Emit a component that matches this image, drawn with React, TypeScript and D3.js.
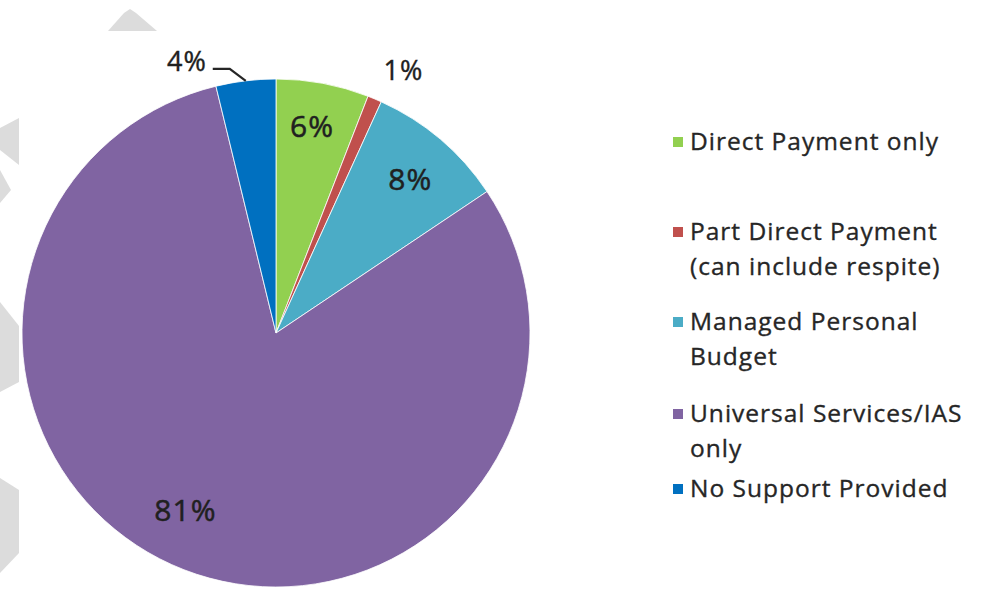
import { useEffect, useRef } from 'react';
import * as d3 from 'd3';

// slice shares (percent), clockwise from 12 o'clock
const categories = [
  'Direct Payment only',
  'Part Direct Payment (can include respite)',
  'Managed Personal Budget',
  'Universal Services/IAS only',
  'No Support Provided',
];
const shares = [5.9, 0.9, 8.8, 80.6, 3.8];
const shareLabels = ['6%', '1%', '8%', '81%', '4%'];
const colors = ['#92d050', '#c0504d', '#4bacc6', '#8064a2', '#0070c0'];

// legend text split into lines the way the original wraps it
const legendLines = [
  ['Direct Payment only'],
  ['Part Direct Payment', '(can include respite)'],
  ['Managed Personal', 'Budget'],
  ['Universal Services/IAS', 'only'],
  ['No Support Provided'],
];

const W = 985;
const H = 589;

export default function App() {
  const ref = useRef<SVGSVGElement>(null);

  useEffect(() => {
    if (!ref.current) return;
    const svg = d3.select(ref.current);
    svg.selectAll('*').remove();

    // faint watermark shapes along the left edge
    const marks = [
      [[108, 31], [124, 13], [130, 9], [136, 13], [157, 31]],
      [[0, 128], [19, 118], [19, 165], [0, 150]],
      [[0, 170], [11, 190], [0, 203]],
      [[0, 302], [19, 326], [19, 382], [0, 392]],
      [[0, 478], [19, 490], [19, 553], [0, 573]],
    ];
    svg.append('g')
      .selectAll('polygon')
      .data(marks)
      .join('polygon')
      .attr('points', (d) => d.map((p) => p.join(',')).join(' '))
      .attr('fill', '#dcdcdc');

    const cx = 276;
    const cy = 333;
    const radius = 254;

    const pie = d3.pie<number>().sort(null).value((d) => d);
    const arcs = pie(shares);

    const arc = d3.arc<d3.PieArcDatum<number>>()
      .innerRadius(0)
      .outerRadius(radius);

    const g = svg.append('g').attr('transform', `translate(${cx},${cy})`);

    g.selectAll('path')
      .data(arcs)
      .join('path')
      .attr('d', arc)
      .attr('fill', (_d, i) => colors[i])
      .attr('stroke', '#ffffff')
      .attr('stroke-width', 0.8);

    // labels inside the big slices
    const inner = d3.arc<d3.PieArcDatum<number>>()
      .innerRadius(206)
      .outerRadius(206);

    const font = '"Open Sans", sans-serif';
    const ink = '#202020';

    // small nudges so labels sit where Excel put them
    const nudge: Record<number, [number, number]> = { 0: [-2, -4], 2: [1, 3], 3: [-16, -15] };

    const insideIdx = [0, 2, 3];
    g.selectAll('text.inside')
      .data(insideIdx)
      .join('text')
      .attr('class', 'inside')
      .attr('transform', (i) => {
        const [x, y] = inner.centroid(arcs[i]);
        const [nx, ny] = nudge[i];
        return `translate(${x + nx},${y + ny})`;
      })
      .attr('text-anchor', 'middle')
      .attr('dy', '0.36em')
      .style('font-family', font)
      .style('font-size', '30px')
      .style('letter-spacing', '1px')
      .style('fill', ink)
      .style('stroke', ink)
      .style('stroke-width', '0.5px')
      .text((i) => shareLabels[i]);

    // 1% sits just outside its thin slice
    const outer = d3.arc<d3.PieArcDatum<number>>()
      .innerRadius(292)
      .outerRadius(292);
    const [ox, oy] = outer.centroid(arcs[1]);
    g.append('text')
      .attr('x', ox + 14)
      .attr('y', oy + 6)
      .attr('text-anchor', 'middle')
      .attr('dy', '0.36em')
      .style('font-family', font)
      .style('font-size', '27px')
      .style('letter-spacing', '1px')
      .style('fill', ink)
      .style('stroke', ink)
      .style('stroke-width', '0.4px')
      .text(shareLabels[1]);

    // 4% with a leader line
    const edge = d3.arc<d3.PieArcDatum<number>>()
      .innerRadius(radius)
      .outerRadius(radius);
    const [ex, ey] = edge.centroid(arcs[4]);
    g.append('path')
      .attr('d', `M${ex},${ey} L${ex - 16},${ey - 12} L${ex - 33},${ey - 12}`)
      .attr('fill', 'none')
      .attr('stroke', '#262626')
      .attr('stroke-width', 2.2);
    g.append('text')
      .attr('x', ex - 39)
      .attr('y', ey - 10)
      .attr('text-anchor', 'end')
      .style('font-family', font)
      .style('font-size', '27px')
      .style('letter-spacing', '1px')
      .style('fill', ink)
      .style('stroke', ink)
      .style('stroke-width', '0.4px')
      .text(shareLabels[4]);

    // legend
    const legendX = 673;
    const baselines = [150, 240, 330, 422, 497];
    const lineH = 35;
    const lg = svg.append('g');
    const items = lg.selectAll('g')
      .data(categories)
      .join('g')
      .attr('transform', (_d, i) => `translate(${legendX},${baselines[i]})`);

    items.append('rect')
      .attr('x', 0)
      .attr('y', -13)
      .attr('width', 10)
      .attr('height', 10)
      .attr('fill', (_d, i) => colors[i]);

    items.each(function (_d, i) {
      const t = d3.select(this).append('text')
        .attr('x', 17)
        .attr('y', 0)
        .style('font-family', font)
        .style('font-size', '24.5px')
        .style('letter-spacing', '1px')
        .style('fill', '#262626')
        .style('stroke', '#262626')
        .style('stroke-width', '0.35px');
      legendLines[i].forEach((line, k) => {
        t.append('tspan')
          .attr('x', 17)
          .attr('y', k * lineH)
          .text(line);
      });
    });
  }, []);

  return (
    <svg
      ref={ref}
      width={W}
      height={H}
      viewBox={`0 0 ${W} ${H}`}
      style={{ position: 'absolute', left: 0, top: 0, background: '#ffffff' }}
    />
  );
}
